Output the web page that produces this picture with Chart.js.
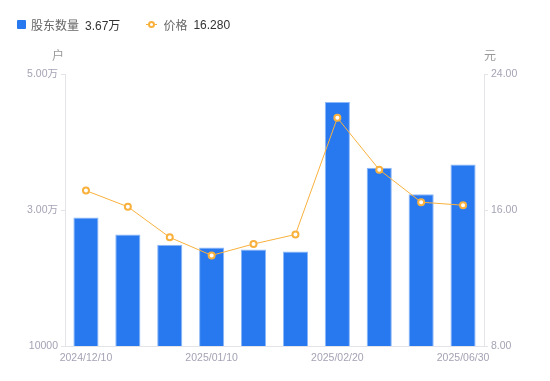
<!DOCTYPE html>
<html><head><meta charset="utf-8">
<script src="https://cdn.jsdelivr.net/npm/chart.js@4"></script>
<style>
html,body{margin:0;padding:0;background:#fff;}
#wrap{position:relative;width:550px;height:381px;}
#legend{position:absolute;left:17px;top:16px;font:12px 'Liberation Sans','Noto Sans CJK SC',sans-serif;color:#666;display:flex;align-items:center;white-space:nowrap;}
.item{display:flex;align-items:center;margin-right:26px;}
.sq{width:9px;height:9px;background:#2878f0;border-radius:1px;margin-right:5px;}
.ln{position:relative;width:11px;height:9px;margin-right:6px;}
.ln:before{content:'';position:absolute;left:0;right:0;top:4px;height:1px;background:#f9b13d;}
.ln:after{content:'';position:absolute;left:2px;top:1px;width:3px;height:3px;border:2px solid #f9b13d;border-radius:50%;background:#fff;}
.val{color:#333;margin-left:6px;}
</style></head>
<body><div id="wrap"><canvas id="c" width="550" height="381"></canvas>
<div id="legend"></div></div>
<script>
const categories = ['2024/12/10','2024/12/20','2024/12/31','2025/01/10','2025/01/20','2025/02/10','2025/02/20','2025/03/10','2025/03/31','2025/06/30'];
const holders = [28900, 26400, 24900, 24500, 24200, 23900, 45900, 36200, 32300, 36700];
const prices = [17.14, 16.19, 14.39, 13.33, 14.00, 14.56, 21.42, 18.37, 16.46, 16.28];
const leftTicks = [10000, 30000, 50000];
const rightTicks = [8, 16, 24];
const holderName = '股东数量', priceName = '价格';
const leftUnit = '户', rightUnit = '元';

const FONT = "'Liberation Sans','Noto Sans CJK SC',sans-serif";
const TICK = '#a3a3b5';
const AXIS = '#e3e3e8';

function fmtHolders(v){ return v >= 20000 ? (v/10000).toFixed(2)+'万' : String(v); }

document.getElementById('legend').innerHTML =
  '<div class="item"><div class="sq"></div>'+holderName+'<span class="val">'+fmtHolders(holders[holders.length-1])+'</span></div>'+
  '<div class="item"><div class="ln"></div>'+priceName+'<span class="val">'+prices[prices.length-1].toFixed(3)+'</span></div>';

const unitPlugin = {
  id:'units',
  afterDraw(chart){
    const ctx = chart.ctx, a = chart.chartArea;
    ctx.save();
    ctx.font = '12px '+FONT;
    ctx.fillStyle = '#999';
    ctx.textAlign = 'center';
    ctx.textBaseline = 'middle';
    ctx.fillText(leftUnit, a.left-7, a.top-17);
    ctx.fillText(rightUnit, a.right+6, a.top-17);
    ctx.restore();
  }
};

new Chart(document.getElementById('c'), {
  data:{
    labels: categories,
    datasets:[
      {type:'line', label:priceName, data:prices, yAxisID:'yR', borderColor:'#f9b13d', borderWidth:1,
       pointRadius:3, pointBorderWidth:2, pointBackgroundColor:'#fff', pointBorderColor:'#f9b13d', tension:0, order:0},
      {type:'bar', label:holderName, data:holders, yAxisID:'yL', backgroundColor:'#2878f0', borderColor:'#8db8f7',
       borderWidth:1, borderSkipped:'bottom', categoryPercentage:1, barPercentage:0.6, order:1}
    ]
  },
  options:{
    responsive:false, animation:false,
    layout:{padding:{top:74,left:0,right:0,bottom:0}},
    plugins:{legend:{display:false}, tooltip:{enabled:false}},
    scales:{
      x:{
        offset:true,
        grid:{display:false, drawTicks:false},
        border:{color:AXIS},
        ticks:{autoSkip:false, maxRotation:0, padding:6, color:TICK, font:{size:10.5, family:FONT},
          callback(v,i){ return i%3===0 ? categories[i] : ''; }},
        afterFit(s){ s.height = 35; }
      },
      yL:{
        position:'left', min:10000, max:50000,
        afterBuildTicks(s){ s.ticks = leftTicks.map(v=>({value:v})); },
        grid:{drawOnChartArea:false, tickLength:4, color:AXIS},
        border:{color:AXIS},
        ticks:{color:TICK, padding:3, font:{size:10.5, family:FONT}, callback:v=>fmtHolders(v)},
        afterFit(s){ s.width = 65; }
      },
      yR:{
        position:'right', min:8, max:24,
        afterBuildTicks(s){ s.ticks = rightTicks.map(v=>({value:v})); },
        grid:{drawOnChartArea:false, tickLength:4, color:AXIS},
        border:{color:AXIS},
        ticks:{color:TICK, padding:3, font:{size:10.5, family:FONT}, callback:v=>v.toFixed(2)},
        afterFit(s){ s.width = 66; }
      }
    }
  },
  plugins:[unitPlugin]
});
</script></body></html>
